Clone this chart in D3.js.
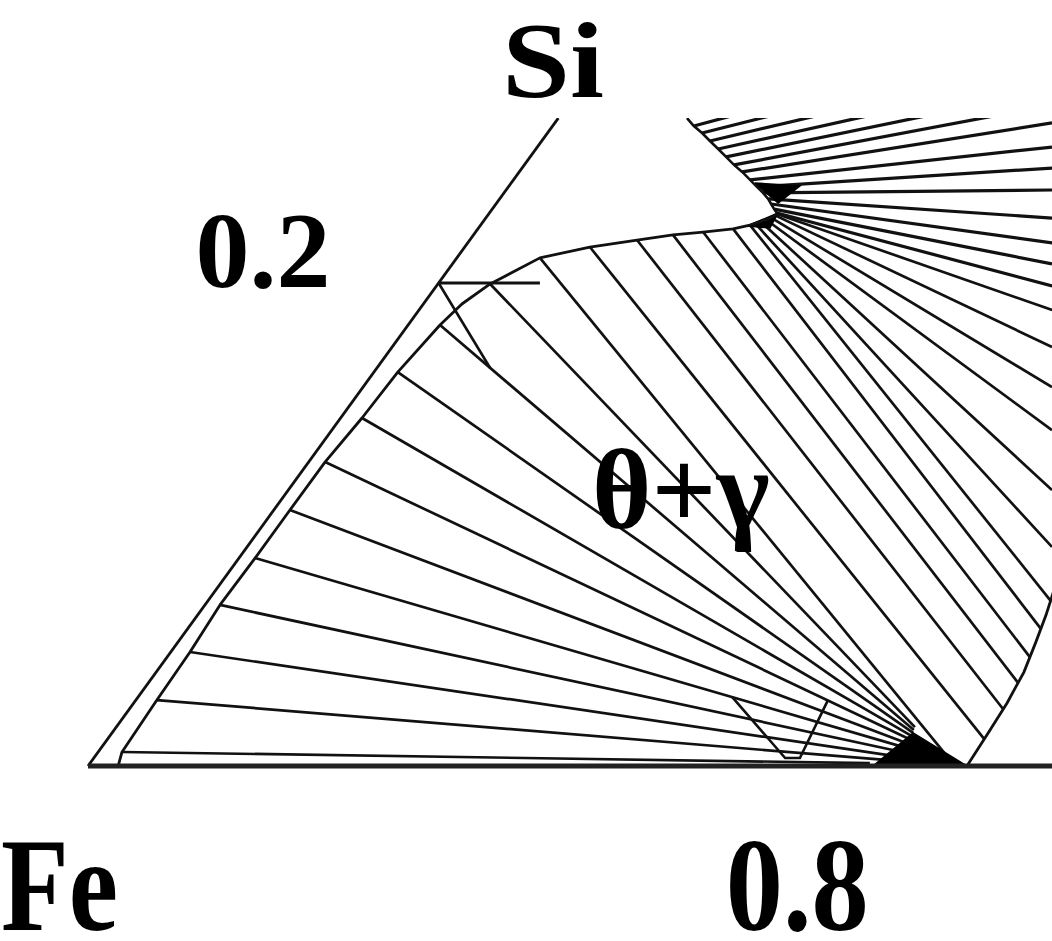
<!DOCTYPE html>
<html>
<head>
<meta charset="utf-8">
<script src="https://cdn.jsdelivr.net/npm/d3@7"></script>
<style>
  html, body { margin: 0; padding: 0; background: #fff; }
  svg { display: block; }
  text { font-family: "Liberation Serif", "Times New Roman", serif; font-weight: bold; fill: #000; }
</style>
</head>
<body>
<svg id="chart" width="1052" height="941"></svg>
<script>
// Fe-rich corner of an isothermal Fe-Si-X section.
// Every point is a composition [X, Si] in mole fraction (Fe = 1 - X - Si).

const siTop = 0.2683;                       // upper cut of the section
const feSiEdge = [[0, 0], [0, 0.2683]];
const feXEdge  = [[0, 0], [0.2750, 0]];

// gamma phase boundary, from the Fe-X side up to the cusp
const gammaBoundary = [
  [0.0086, 0.0000], [0.0068, 0.0058], [0.0060, 0.0273], [0.0055, 0.0472],
  [0.0043, 0.0667], [0.0046, 0.0861], [0.0046, 0.1060], [0.0047, 0.1259],
  [0.0061, 0.1441], [0.0068, 0.1631], [0.0091, 0.1826], [0.0110, 0.1913],
  [0.0149, 0.1996], [0.0237, 0.2104], [0.0357, 0.2149], [0.0477, 0.2178],
  [0.0569, 0.2199], [0.0649, 0.2211], [0.0728, 0.2224], [0.0768, 0.2240],
  [0.0790, 0.2253], [0.0811, 0.2269], [0.0825, 0.2286]
];

// theta phase boundary on the right
const thetaBoundary = [
  [0.2507, 0.0000], [0.2499, 0.0137], [0.2491, 0.0261], [0.2475, 0.0389],
  [0.2447, 0.0513], [0.2420, 0.0625], [0.2391, 0.0729]
];

// theta + gamma tie lines: gamma end -> theta end
const gammaEnds = [
  [0.0068, 0.0058], [0.0060, 0.0273], [0.0055, 0.0472], [0.0043, 0.0667],
  [0.0046, 0.0861], [0.0046, 0.1060], [0.0047, 0.1259], [0.0061, 0.1441],
  [0.0068, 0.1631], [0.0091, 0.1826], [0.0149, 0.1996], [0.0237, 0.2104],
  [0.0357, 0.2149], [0.0477, 0.2178], [0.0569, 0.2199], [0.0649, 0.2211],
  [0.0728, 0.2224], [0.0768, 0.2240], [0.0778, 0.2248], [0.0788, 0.2257],
  [0.0799, 0.2265], [0.0809, 0.2273], [0.0816, 0.2282], [0.0822, 0.2286]
];
const thetaEnds = [
  [0.2224, 0.0012], [0.2261, 0.0025], [0.2281, 0.0041], [0.2293, 0.0058],
  [0.2296, 0.0075], [0.2296, 0.0091], [0.2294, 0.0108], [0.2288, 0.0124],
  [0.2285, 0.0137], [0.2281, 0.0149], [0.2278, 0.0161], [0.2473, 0.0000],
  [0.2500, 0.0112], [0.2492, 0.0236], [0.2481, 0.0344], [0.2461, 0.0451],
  [0.2435, 0.0567], [0.2405, 0.0683], [0.2296, 0.0907], [0.2178, 0.1143],
  [0.2054, 0.1391], [0.1965, 0.1569], [0.1882, 0.1735], [0.1806, 0.1888]
];

// Si-rich fan above the cusp: start on the single-phase boundary -> far end
const upperStarts = [
  [0.0403, 0.2650], [0.0441, 0.2621], [0.0480, 0.2588], [0.0520, 0.2555],
  [0.0559, 0.2522], [0.0598, 0.2489], [0.0636, 0.2460], [0.0675, 0.2427],
  [0.0709, 0.2398], [0.0739, 0.2373], [0.0766, 0.2348], [0.0785, 0.2327],
  [0.0804, 0.2306], [0.0820, 0.2290]
];
const upperEnds = [
  [0.1226, 0.3048], [0.1257, 0.2986], [0.1288, 0.2923], [0.1319, 0.2861],
  [0.1350, 0.2799], [0.1381, 0.2737], [0.1418, 0.2663], [0.1468, 0.2563],
  [0.1512, 0.2476], [0.1557, 0.2385], [0.1615, 0.2269], [0.1667, 0.2166],
  [0.1710, 0.2079], [0.1756, 0.1988]
];
const upperBoundary = [[0.0367, 0.2683]].concat(upperStarts);

// three-phase triangles
const lowerTriangle = [[0.2239, 0.0000], [0.2285, 0.0137], [0.2507, 0.0000]];
const cuspTriangle  = [[0.0695, 0.2414], [0.0830, 0.2402], [0.0803, 0.2331]];
const cuspWedge     = [[0.0762, 0.2236], [0.0823, 0.2290], [0.0831, 0.2228]];
const smallTriangle = [[0.1694, 0.0286], [0.1972, 0.0033], [0.2014, 0.0033], [0.1974, 0.0273]];

// reference tick and its short guide segment
const siTicks = [0.2];
const siTickLabels = ["0.2"];
const tickGuide = [[0, 0.2], [0.0323, 0.1648]];
const feTicks = [0.8];
const feTickLabels = ["0.8"];
const cornerLabels = ["Fe", "Si"];
const regionLabel = "θ+γ";

// ---- drawing ----
const W = 1052, H = 941;
const svg = d3.select("#chart");

const x = d3.scaleLinear().domain([0, 0.2]).range([88, 789.2]);   // X + Si/2
const y = d3.scaleLinear().domain([0, 0.2]).range([766, 283]);    // Si
const px = d => x(d[0] + d[1] / 2);
const py = d => y(d[1]);
const line = d3.line().x(px).y(py);

svg.append("rect").attr("width", W).attr("height", H).attr("fill", "#fff");

svg.append("defs").append("clipPath").attr("id", "plotClip")
  .append("rect").attr("x", 0).attr("y", y(siTop)).attr("width", W).attr("height", H - y(siTop));

const plot = svg.append("g").attr("clip-path", "url(#plotClip)");

const ink = "#111";

// tie lines
const ties = gammaEnds.map((g, i) => [g, thetaEnds[i]]);
plot.append("g").selectAll("path").data(ties).join("path")
  .attr("d", line).attr("fill", "none").attr("stroke", ink).attr("stroke-width", 2.7);

const upperTies = upperStarts.map((s, i) => [s, upperEnds[i]]);
plot.append("g").selectAll("path").data(upperTies).join("path")
  .attr("d", line).attr("fill", "none").attr("stroke", ink).attr("stroke-width", 3.2);

// filled triangles
plot.append("g").selectAll("path").data([lowerTriangle, cuspTriangle, cuspWedge]).join("path")
  .attr("d", d => line(d.concat([d[0]]))).attr("fill", "#000").attr("stroke", "#000").attr("stroke-width", 1.5);

// small three-phase outline
plot.append("path").datum(smallTriangle).attr("d", line)
  .attr("fill", "none").attr("stroke", ink).attr("stroke-width", 2.6);

// phase boundaries
plot.append("path").datum(gammaBoundary).attr("d", line)
  .attr("fill", "none").attr("stroke", ink).attr("stroke-width", 2.8).attr("stroke-linejoin", "round");
plot.append("path").datum(thetaBoundary).attr("d", line)
  .attr("fill", "none").attr("stroke", ink).attr("stroke-width", 2.8);
plot.append("path").datum(upperBoundary).attr("d", line)
  .attr("fill", "none").attr("stroke", ink).attr("stroke-width", 2.6);

// Si tick + guide
siTicks.forEach(t => {
  plot.append("path").datum([[0, t], [0.0289, t]]).attr("d", line)
    .attr("stroke", ink).attr("stroke-width", 3);
});
plot.append("path").datum(tickGuide).attr("d", line)
  .attr("stroke", ink).attr("stroke-width", 2.6);

// triangle edges
plot.append("path").datum(feSiEdge).attr("d", line)
  .attr("stroke", ink).attr("stroke-width", 2.8);
plot.append("path").datum(feXEdge).attr("d", line)
  .attr("stroke", "#222").attr("stroke-width", 5);

// labels
siTicks.forEach((t, i) => {
  svg.append("text").attr("x", px([0, t]) - 108).attr("y", py([0, t]) + 4)
    .attr("text-anchor", "end").attr("font-size", 108).text(siTickLabels[i]);
});
feTicks.forEach((t, i) => {
  svg.append("text").attr("x", px([1 - t, 0]) + 8).attr("y", 930)
    .attr("text-anchor", "middle").attr("font-size", 134)
    .attr("textLength", 143).attr("lengthAdjust", "spacingAndGlyphs")
    .text(feTickLabels[i]);
});
svg.append("text").attr("x", px([0, 0]) - 87).attr("y", 930)
  .attr("font-size", 134)
  .attr("textLength", 117).attr("lengthAdjust", "spacingAndGlyphs")
  .text(cornerLabels[0]);
svg.append("text").attr("x", 553).attr("y", 97)
  .attr("text-anchor", "middle").attr("font-size", 108)
  .attr("textLength", 102).attr("lengthAdjust", "spacingAndGlyphs")
  .text(cornerLabels[1]);
svg.append("text").attr("x", 592).attr("y", 528)
  .attr("font-size", 114).text(regionLabel);
</script>
</body>
</html>
